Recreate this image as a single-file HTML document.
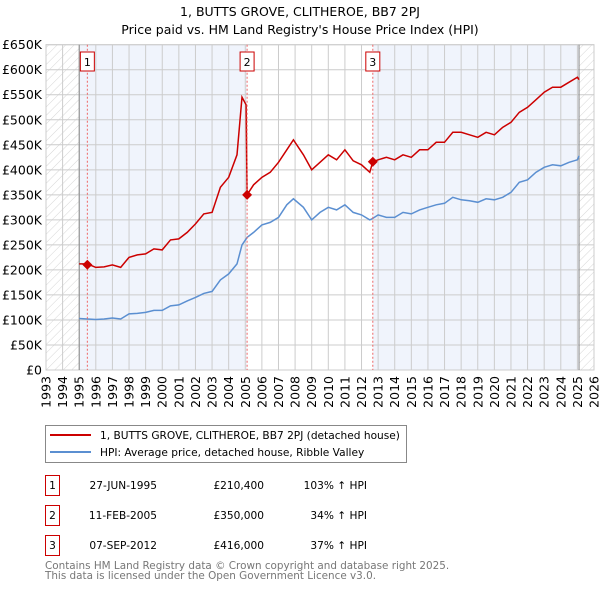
<!DOCTYPE html>
<html><head><meta charset="utf-8"><style>
body{margin:0;background:#fff;font-family:"Liberation Sans","DejaVu Sans",sans-serif;}
svg text{font-family:"DejaVu Sans","Liberation Sans",sans-serif;}
</style></head><body>
<svg id="chart" width="600" height="590" viewBox="0 0 600 590">
<defs><pattern id="hatch" width="6" height="6" patternUnits="userSpaceOnUse" patternTransform="rotate(45)"><line x1="0" y1="0" x2="0" y2="6" stroke="#ccc" stroke-width="0.8"/></pattern></defs>
<text x="300" y="16" text-anchor="middle" font-size="12.5" fill="#000">1, BUTTS GROVE, CLITHEROE, BB7 2PJ</text>
<text x="300" y="34" text-anchor="middle" font-size="12.5" fill="#000">Price paid vs. HM Land Registry's House Price Index (HPI)</text>
<g id="bg"></g><g id="grid"></g><g id="axes"></g><g id="series"></g><g id="marks"></g>
<g>
<rect x="45.5" y="425.5" width="361" height="37" fill="#fff" stroke="#888"/>
<line x1="50" y1="435" x2="91" y2="435" stroke="#cc0000" stroke-width="2"/>
<text x="100" y="439" font-size="10.6">1, BUTTS GROVE, CLITHEROE, BB7 2PJ (detached house)</text>
<line x1="50" y1="452" x2="91" y2="452" stroke="#5b8fd1" stroke-width="2"/>
<text x="100" y="456" font-size="10.6">HPI: Average price, detached house, Ribble Valley</text>
</g>
<g id="table" font-size="10.6"></g>
<text x="45" y="569" font-size="10.4" fill="#777">Contains HM Land Registry data © Crown copyright and database right 2025.</text>
<text x="45" y="579" font-size="10.4" fill="#777">This data is licensed under the Open Government Licence v3.0.</text>
</svg>
<script>
const years=[1995,1995.5,1996,1996.5,1997,1997.5,1998,1998.5,1999,1999.5,2000,2000.5,2001,2001.5,2002,2002.5,2003,2003.5,2004,2004.5,2004.8,2005.05,2005.11,2005.5,2006,2006.5,2007,2007.5,2007.9,2008.5,2009,2009.5,2010,2010.5,2011,2011.5,2012,2012.5,2012.68,2013,2013.5,2014,2014.5,2015,2015.5,2016,2016.5,2017,2017.5,2018,2018.5,2019,2019.5,2020,2020.5,2021,2021.5,2022,2022.5,2023,2023.5,2024,2024.5,2025.0,2025.1];
const hpiValues=[103,102,101,102,104,102,112,113,115,119,119,128,130,138,145,153,157,180,192,212,250,262,265,275,290,295,305,330,342,325,300,315,325,320,330,315,310,300,303,310,305,305,315,312,320,325,330,333,345,340,338,335,342,340,345,355,375,380,395,405,410,408,415,420,428];
const priceValues=[212,212,205,206,210,205,225,230,232,242,240,260,262,275,292,312,315,365,385,430,545,530,350,370,385,395,415,440,460,430,400,415,430,420,440,418,410,395,416,420,425,420,430,425,440,440,455,455,475,475,470,465,475,470,485,495,515,525,540,555,565,565,575,585,580];
const sales=[{n:"1",year:1995.49,price:210.4,date:"27-JUN-1995",label:"£210,400",pct:"103%"},{n:"2",year:2005.11,price:350,date:"11-FEB-2005",label:"£350,000",pct:"34%"},{n:"3",year:2012.68,price:416,date:"07-SEP-2012",label:"£416,000",pct:"37%"}];
const yTicks=[0,50,100,150,200,250,300,350,400,450,500,550,600,650];
const xTicks=[1993,1994,1995,1996,1997,1998,1999,2000,2001,2002,2003,2004,2005,2006,2007,2008,2009,2010,2011,2012,2013,2014,2015,2016,2017,2018,2019,2020,2021,2022,2023,2024,2025,2026];
const L=46,R=594,T=44.7,B=370;
const x=v=>L+(v-1993)/(2026-1993)*(R-L);
const y=v=>B-v/650*(B-T);
const NS="http://www.w3.org/2000/svg";
function mk(p,tag,a){const e=document.createElementNS(NS,tag);for(const k in a)e.setAttribute(k,a[k]);p.appendChild(e);return e;}
const bg=document.getElementById('bg'),grid=document.getElementById('grid'),axes=document.getElementById('axes'),series=document.getElementById('series'),marks=document.getElementById('marks');
let e;
e=mk(bg,'rect',{x:L,y:T,width:R-L,height:B-T,fill:'#fff'});
e=mk(bg,'rect',{x:x(1995),y:T,width:x(sales[1].year)-x(1995),height:B-T,fill:'#f0f4fc'});


e=mk(bg,'rect',{x:x(sales[2].year),y:T,width:x(2025.1)-x(sales[2].year),height:B-T,fill:'#f0f4fc'});


e=mk(bg,'rect',{x:L,y:T,width:x(1995)-L,height:B-T,fill:'url(#hatch)'});


e=mk(bg,'rect',{x:x(2025.1),y:T,width:R-x(2025.1),height:B-T,fill:'url(#hatch)'});


yTicks.forEach(v=>{mk(grid,'line',{x1:L,x2:R,y1:y(v),y2:y(v),stroke:'#ccc','stroke-width':1});
e=mk(axes,'text',{x:L-4,y:y(v)+4.5,'text-anchor':'end','font-size':12.5});e.textContent=v===0?'£0':'£'+v+'K';

});
xTicks.forEach(v=>{mk(grid,'line',{x1:x(v),x2:x(v),y1:T,y2:B,stroke:'#ccc','stroke-width':1});
e=mk(axes,'text',{transform:`translate(${x(v)+4.5},${B+6}) rotate(-90)`,'text-anchor':'end','font-size':12.5});e.textContent=v;

});
mk(grid,'rect',{x:L,y:T,width:R-L,height:B-T,fill:'none',stroke:'#ccc'});
mk(grid,'line',{x1:x(1995),x2:x(1995),y1:T,y2:B,stroke:'#888'});
mk(grid,'line',{x1:x(2025.1),x2:x(2025.1),y1:T,y2:B,stroke:'#888'});
const path=(vals)=>years.map((t,i)=>(i?'L':'M')+x(t).toFixed(1)+','+y(vals[i]).toFixed(1)).join('');
e=mk(series,'path',{d:path(hpiValues),fill:'none',stroke:'#5b8fd1','stroke-width':1.5});


e=mk(series,'path',{d:path(priceValues),fill:'none',stroke:'#cc0000','stroke-width':1.5});


const tb=document.getElementById('table');
sales.forEach((s,i)=>{const sx=x(s.year);
mk(marks,'line',{x1:sx,x2:sx,y1:T,y2:B,stroke:'#e66','stroke-width':1,'stroke-dasharray':'2,2'});
e=mk(marks,'path',{d:`M${sx},${y(s.price)-5}L${sx+5},${y(s.price)}L${sx},${y(s.price)+5}L${sx-5},${y(s.price)}Z`,fill:'#cc0000'});


e=mk(marks,'rect',{x:sx-7,y:52,width:14,height:19,fill:'#fff',stroke:'#cc0000'});


let t=mk(marks,'text',{x:sx,y:66,'text-anchor':'middle','font-size':11});t.textContent=s.n;
const ry=475+i*30;
e=mk(tb,'rect',{x:45.5,y:ry+0.5,width:14,height:20,fill:'#fff',stroke:'#cc0000'});


t=mk(tb,'text',{x:52.5,y:ry+14,'text-anchor':'middle'});t.textContent=s.n;
t=mk(tb,'text',{x:157,y:ry+14,'text-anchor':'end'});t.textContent=s.date;


t=mk(tb,'text',{x:264,y:ry+14,'text-anchor':'end'});t.textContent=s.label;


t=mk(tb,'text',{x:367,y:ry+14,'text-anchor':'end'});t.textContent=s.pct+' ↑ HPI';


});
</script>
</body></html>
